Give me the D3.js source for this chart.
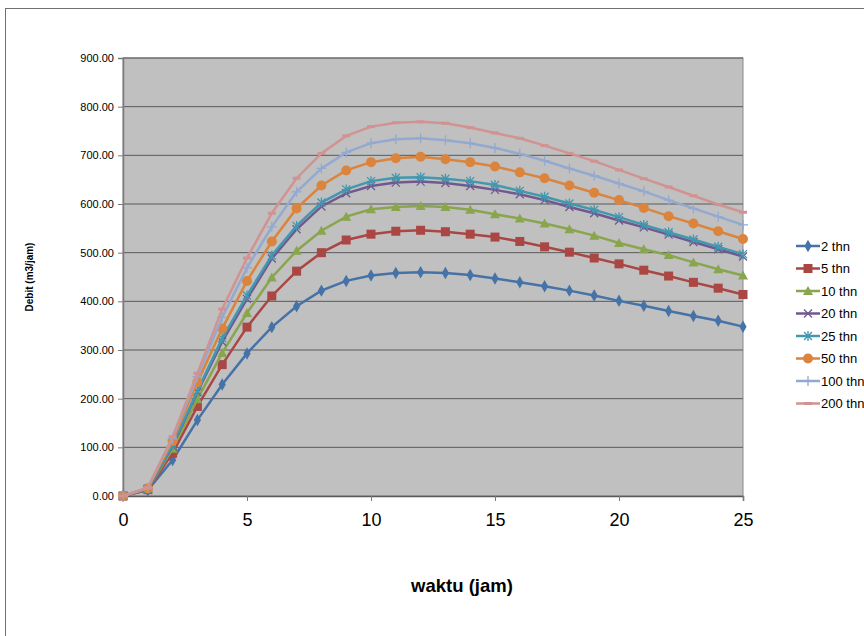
<!DOCTYPE html>
<html>
<head>
<meta charset="utf-8">
<script src="https://cdn.jsdelivr.net/npm/d3@7"></script>
<style>
    body { margin: 0; background: #fff; overflow: hidden; }
    svg { font-family: "Liberation Sans", Arial, sans-serif; }
</style>
</head>
<body>
<svg id="chart" width="864" height="636"></svg>
<script>
// hours on the x axis
const hours = d3.range(0, 26);

// debit (m3/jam) per return period
const q2 = [0, 12, 74, 156, 229, 293, 347, 390, 422, 442, 453, 458, 460, 458, 454, 447, 439, 431, 422, 412, 401, 391, 380, 370, 360, 348];
const q5 = [0, 13, 88, 184, 270, 347, 411, 462, 500, 526, 538, 544, 546, 543, 538, 532, 523, 512, 501, 489, 477, 464, 452, 439, 427, 414];
const q10 = [0, 14, 97, 199, 294, 376, 449, 504, 545, 574, 589, 594, 596, 594, 588, 579, 570, 560, 548, 535, 520, 507, 495, 480, 466, 453];
const q20 = [0, 15, 103, 213, 317, 405, 488, 548, 595, 622, 637, 644, 646, 643, 637, 629, 620, 608, 594, 581, 566, 552, 537, 522, 507, 492];
const q25 = [0, 15, 105, 216, 324, 412, 494, 555, 603, 630, 647, 654, 655, 652, 647, 639, 627, 615, 601, 588, 573, 557, 542, 527, 512, 497];
const q50 = [0, 16, 113, 234, 344, 442, 523, 591, 638, 669, 686, 694, 697, 692, 686, 677, 665, 653, 638, 623, 608, 592, 575, 560, 544, 528];
const q100 = [0, 17, 118, 245, 367, 469, 553, 625, 673, 706, 725, 733, 735, 731, 725, 715, 703, 689, 673, 658, 642, 626, 608, 591, 574, 557];
const q200 = [0, 17, 122, 252, 384, 489, 581, 653, 704, 740, 759, 767, 769, 766, 757, 746, 735, 720, 704, 688, 670, 652, 635, 617, 599, 583];

const seriesNames = ["2 thn", "5 thn", "10 thn", "20 thn", "25 thn", "50 thn", "100 thn", "200 thn"];
const seriesValues = [q2, q5, q10, q20, q25, q50, q100, q200];
const colors = ["#4572A7", "#AA4643", "#89A54E", "#71588F", "#4198AF", "#DB843D", "#93A9CF", "#D19392"];
const markers = ["diamond", "square", "triangle", "cross", "star", "circle", "plus", "dash"];

const yTicks = [0, 100, 200, 300, 400, 500, 600, 700, 800, 900];
const xTicks = [0, 5, 10, 15, 20, 25];

const svg = d3.select("#chart");
const margin = { top: 58, right: 121, bottom: 140, left: 123 };
const width = 864, height = 636;

// outer chart frame (runs off the right and bottom of the picture)
svg.append("rect")
    .attr("x", 5.5).attr("y", 8.5)
    .attr("width", 900).attr("height", 700)
    .attr("fill", "none").attr("stroke", "#707070").attr("stroke-width", 1);

const x = d3.scaleLinear().domain([0, 25]).range([margin.left, width - margin.right]);
const y = d3.scaleLinear().domain([0, 900]).range([height - margin.bottom, margin.top]);

// plot background
svg.append("rect")
    .attr("x", x(0)).attr("y", y(900))
    .attr("width", x(25) - x(0)).attr("height", y(0) - y(900))
    .attr("fill", "#C0C0C0")
    .attr("stroke", "#8a8a8a");

// gridlines
svg.append("g")
    .selectAll("line")
    .data(yTicks.filter(d => d > 0))
    .join("line")
    .attr("x1", x(0)).attr("x2", x(25))
    .attr("y1", d => y(d)).attr("y2", d => y(d))
    .attr("stroke", "#5a5a5a").attr("stroke-width", 1);

// y axis
const yAxis = svg.append("g")
    .attr("transform", `translate(${x(0)},0)`)
    .call(d3.axisLeft(y).tickValues(yTicks).tickFormat(d3.format(".2f")).tickSize(5).tickPadding(4));
yAxis.select(".domain").attr("stroke", "#7a7a7a").attr("stroke-width", 1.5);
yAxis.selectAll(".tick line").attr("stroke", "#7a7a7a");
yAxis.selectAll(".tick text").attr("font-size", 11).attr("fill", "#000")
    .attr("font-family", "Liberation Sans, Arial, sans-serif");

// x axis
const xAxis = svg.append("g")
    .attr("transform", `translate(0,${y(0)})`)
    .call(d3.axisBottom(x).tickValues(xTicks).tickFormat(d3.format("d")).tickSize(5).tickPadding(12));
xAxis.select(".domain").attr("stroke", "#5a5a5a").attr("stroke-width", 1.5);
xAxis.selectAll(".tick line").attr("stroke", "#7a7a7a");
xAxis.selectAll(".tick text").attr("font-size", 18).attr("fill", "#000")
    .attr("font-family", "Liberation Sans, Arial, sans-serif");

// axis titles
svg.append("text")
    .attr("transform", `translate(33,${(y(0) + y(900)) / 2}) rotate(-90)`)
    .attr("text-anchor", "middle")
    .attr("font-size", 10).attr("font-weight", "bold")
    .text("Debit (m3/jam)");
svg.append("text")
    .attr("x", 462).attr("y", 592)
    .attr("text-anchor", "middle")
    .attr("font-size", 18.5).attr("font-weight", "bold")
    .text("waktu (jam)");

// marker shapes
function drawMarker(g, type, color) {
    if (type === "diamond") {
        g.append("path").attr("d", d3.symbol(d3.symbolDiamond, 45)()).attr("fill", color);
    } else if (type === "square") {
        g.append("rect").attr("x", -4.5).attr("y", -4.5).attr("width", 9).attr("height", 9).attr("fill", color);
    } else if (type === "triangle") {
        g.append("path").attr("d", "M0,-5L5,4L-5,4Z").attr("fill", color);
    } else if (type === "circle") {
        g.append("circle").attr("r", 5).attr("fill", color);
    } else if (type === "cross") {
        g.append("path").attr("d", "M-4,-4L4,4M-4,4L4,-4").attr("stroke", color).attr("stroke-width", 1.3);
    } else if (type === "star") {
        g.append("path").attr("d", "M-4,-4L4,4M-4,4L4,-4M0,-5L0,5").attr("stroke", color).attr("stroke-width", 1.3);
    } else if (type === "plus") {
        g.append("path").attr("d", "M-5,0L5,0M0,-5L0,5").attr("stroke", color).attr("stroke-width", 1.3);
    } else if (type === "dash") {
        g.append("path").attr("d", "M-4,0L4,0").attr("stroke", color).attr("stroke-width", 3);
    }
}

// lines
const line = d3.line().x((d, i) => x(hours[i])).y(d => y(d));
seriesValues.forEach((vals, s) => {
    svg.append("path")
        .datum(vals)
        .attr("d", line)
        .attr("fill", "none")
        .attr("stroke", colors[s])
        .attr("stroke-width", 2.5);
    svg.append("g").selectAll("g")
        .data(vals)
        .join("g")
        .attr("transform", (d, i) => `translate(${x(hours[i])},${y(d)})`)
        .each(function() { drawMarker(d3.select(this), markers[s], colors[s]); });
});

// legend
const legend = svg.append("g").attr("transform", "translate(796,246)");
seriesNames.forEach((name, i) => {
    const row = legend.append("g").attr("transform", `translate(0,${i * 22.5})`);
    row.append("line").attr("x1", 0).attr("x2", 24).attr("stroke", colors[i]).attr("stroke-width", 2.5);
    const m = row.append("g").attr("transform", "translate(12,0)");
    drawMarker(m, markers[i], colors[i]);
    row.append("text")
        .attr("x", 25).attr("y", 4.5)
        .attr("font-size", 13)
        .text(name);
});
</script>
</body>
</html>
